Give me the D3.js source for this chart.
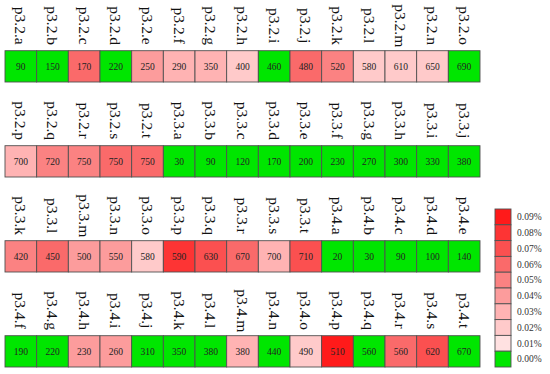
<!DOCTYPE html>
<html>
<head>
<meta charset="utf-8">
<script src="https://cdn.jsdelivr.net/npm/d3@7"></script>
<style>
  body { margin: 0; background: #fff; }
  svg { display: block; }
</style>
</head>
<body>
<svg width="550" height="374"></svg>
<script>
// labels of the cells, row by row (15 per row)
var cellLabels = [
	"p3.2.a","p3.2.b","p3.2.c","p3.2.d","p3.2.e","p3.2.f","p3.2.g","p3.2.h","p3.2.i","p3.2.j","p3.2.k","p3.2.l","p3.2.m","p3.2.n","p3.2.o",
	"p3.2.p","p3.2.q","p3.2.r","p3.2.s","p3.2.t","p3.3.a","p3.3.b","p3.3.c","p3.3.d","p3.3.e","p3.3.f","p3.3.g","p3.3.h","p3.3.i","p3.3.j",
	"p3.3.k","p3.3.l","p3.3.m","p3.3.n","p3.3.o","p3.3.p","p3.3.q","p3.3.r","p3.3.s","p3.3.t","p3.4.a","p3.4.b","p3.4.c","p3.4.d","p3.4.e",
	"p3.4.f","p3.4.g","p3.4.h","p3.4.i","p3.4.j","p3.4.k","p3.4.l","p3.4.m","p3.4.n","p3.4.o","p3.4.p","p3.4.q","p3.4.r","p3.4.s","p3.4.t"
];

// number printed in each cell
var cellValues = [
	90,150,170,220,250,290,350,400,460,480,520,580,610,650,690,
	700,720,750,750,750,30,90,120,170,200,230,270,300,330,380,
	420,450,500,550,580,590,630,670,700,710,20,30,90,100,140,
	190,220,230,260,310,350,380,380,440,490,510,560,560,620,670
];

// colour class of each cell (0 = 0.00%, 9 = 0.09%)
var cellLevels = [
	0,0,6,0,4,3,3,2,0,6,5,2,2,2,0,
	3,5,5,6,6,0,0,0,0,0,0,0,0,0,0,
	5,6,4,4,2,8,7,6,3,7,0,0,0,0,0,
	0,0,4,4,0,0,0,3,0,2,9,0,6,7,0
];

var legendLevels = [9,8,7,6,5,4,3,2,1,0];
var legendLabels = ["0.09%","0.08%","0.07%","0.06%","0.05%","0.04%","0.03%","0.02%","0.01%","0.00%"];

var perRow = 15;
var nRows = 4;

var svg = d3.select("svg");

var color = d3.scaleOrdinal()
	.domain(d3.range(10))
	.range(["#00e600","#ffe1e1","#ffcaca","#ffb3b3","#fc9c9c","#fb8282","#fa6a6a","#fb5050","#fd3434","#ff1a1a"]);

var x = d3.scaleBand()
	.domain(d3.range(perRow))
	.range([5, 480]);

var y = d3.scaleLinear()
	.domain([0, nRows - 1])
	.range([50.7, 335.7]);

var cellH = 31.3;

var cells = cellLabels.map(function(l, i) {
	return { label: l, value: cellValues[i], level: cellLevels[i], col: i % perRow, row: Math.floor(i / perRow) };
});

var g = svg.selectAll("g.cell")
	.data(cells)
	.enter()
	.append("g")
	.attr("class", "cell");

g.append("rect")
	.attr("x", function(d) { return x(d.col); })
	.attr("y", function(d) { return y(d.row); })
	.attr("width", x.bandwidth())
	.attr("height", cellH)
	.style("fill", function(d) { return color(d.level); })
	.style("stroke", "#505050")
	.style("stroke-width", 0.9);

g.append("text")
	.attr("x", function(d) { return x(d.col) + x.bandwidth() / 2; })
	.attr("y", function(d) { return y(d.row) + cellH / 2; })
	.attr("dy", "0.35em")
	.attr("text-anchor", "middle")
	.style("font-family", "'Liberation Serif', serif")
	.style("font-size", "9.5px")
	.style("fill", "#222")
	.text(function(d) { return d.value; });

g.append("text")
	.attr("transform", function(d) {
		var cx = x(d.col) + x.bandwidth() / 2;
		var cy = y(d.row) - 25;
		return "translate(" + cx + "," + cy + ") rotate(90)";
	})
	.attr("dy", "0.35em")
	.attr("text-anchor", "middle")
	.style("font-family", "'Liberation Serif', serif")
	.style("font-size", "15.5px")
	.style("fill", "#111")
	.text(function(d) { return d.label; });

// legend
var ly = d3.scaleBand()
	.domain(legendLevels)
	.range([209, 367]);

var legend = svg.append("g").attr("class", "legend");

legend.selectAll("rect")
	.data(legendLevels)
	.enter()
	.append("rect")
	.attr("x", 495)
	.attr("y", function(d) { return ly(d); })
	.attr("width", 16)
	.attr("height", ly.bandwidth())
	.style("fill", function(d) { return color(d); })
	.style("stroke", "#505050")
	.style("stroke-width", 0.9);

legend.selectAll("text")
	.data(legendLevels)
	.enter()
	.append("text")
	.attr("x", 517)
	.attr("y", function(d) { return ly(d) + ly.bandwidth() / 2; })
	.attr("dy", "0.35em")
	.style("font-family", "'Liberation Serif', serif")
	.style("font-size", "9.5px")
	.style("fill", "#333")
	.text(function(d, i) { return legendLabels[i]; });
</script>
</body>
</html>
